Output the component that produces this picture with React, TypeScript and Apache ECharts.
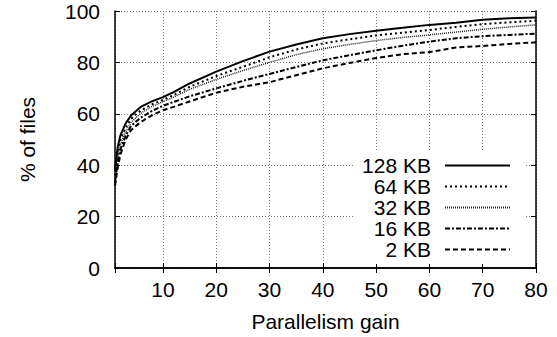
import React, { useEffect, useRef } from "react";
import * as echarts from "echarts";

const gains = [1, 1.5, 2, 3, 4, 5, 6, 8, 10, 12, 15, 20, 25, 30, 35, 40, 45, 50, 55, 60, 65, 70, 75, 80];
const kb128 = [38, 47, 51.5, 56.3, 59.3, 61.2, 62.9, 64.9, 66.5, 68.4, 71.8, 76.4, 80.5, 84.2, 87, 89.4, 91, 92.3, 93.5, 94.6, 95.4, 96.6, 97.2, 97.5];
const kb64 = [36, 45, 50, 54.5, 58, 59.9, 61.5, 63.7, 65.4, 67.3, 70.5, 74.7, 78.3, 82, 85, 87.4, 89, 90.5, 91.6, 92.6, 93.8, 94.9, 95.6, 96.2];
const kb32 = [35, 43.5, 48, 53, 56.6, 58.6, 60.4, 62.9, 64.7, 66.5, 69.5, 73.4, 76.8, 80, 83, 85.3, 87, 88.5, 89.7, 90.7, 91.8, 92.9, 93.8, 94.6];
const kb16 = [33, 41, 46, 51.5, 55.2, 57.1, 58.7, 61.2, 63.1, 64.6, 66.8, 69.9, 72.8, 75.5, 78.2, 80.8, 82.8, 84.7, 86.5, 88.1, 89.4, 90.2, 90.7, 91.2];
const kb2 = [32, 39, 44, 50, 53.6, 55.4, 57, 59.5, 61.4, 62.7, 64.8, 68.2, 70.5, 72.3, 75, 77.7, 79.8, 81.7, 83.2, 84, 85.8, 86.4, 87.2, 87.8];

const seriesNames = ["128 KB", "64 KB", "32 KB", "16 KB", "2 KB"];
const seriesValues = [kb128, kb64, kb32, kb16, kb2];
const yTicks = { min: 0, max: 100, interval: 20 };
const xRange = { min: 1, max: 80 };

const FONT = "'Liberation Sans', Arial, Helvetica, sans-serif";
const FS = 21;

const lineStyles: any[] = [
  { color: "#000", width: 2, type: "solid" },
  { color: "#000", width: 2, type: [2, 3] },
  { color: "#222", width: 1.5, type: [1, 1] },
  { color: "#000", width: 2, type: [5, 2, 2, 2] },
  { color: "#000", width: 2, type: [5, 3] },
];

export default function App() {
  const ref = useRef<HTMLDivElement>(null);
  useEffect(() => {
    if (!ref.current) return;
    const chart = echarts.init(ref.current, null, { renderer: "svg" });
    const axisLine = { show: true, lineStyle: { color: "#000", width: 1.5 } };
    const tick = { show: true, inside: true, length: 5, lineStyle: { color: "#000", width: 1 } };
    const split = { show: true, lineStyle: { color: "#777", width: 1, type: [1, 2] } };
    chart.setOption({
      animation: false,
      backgroundColor: "#fff",
      textStyle: { fontFamily: FONT, color: "#000" },
      grid: { left: 115, right: 21, top: 11, bottom: 69, containLabel: false },
      legend: {
        show: true,
        orient: "vertical",
        right: 33,
        top: 152,
        align: "right",
        padding: [3, 13, 4, 9],
        itemGap: 0,
        itemWidth: 65,
        itemHeight: 14,
        backgroundColor: "#fff",
        selectedMode: false,
        itemStyle: { opacity: 0, borderWidth: 0 },
        data: seriesNames,
        textStyle: { fontFamily: FONT, fontSize: FS, color: "#000", lineHeight: 21, padding: [0, 9, 0, 0] },
      },
      xAxis: [
        {
          type: "value",
          min: xRange.min,
          max: xRange.max,
          splitNumber: 8,
          position: "bottom",
          name: "Parallelism gain",
          nameLocation: "middle",
          nameGap: 43,
          nameTextStyle: { fontFamily: FONT, fontSize: FS, color: "#000" },
          axisLine,
          axisTick: tick,
          splitLine: split,
          axisLabel: {
            fontFamily: FONT,
            fontSize: FS,
            color: "#000",
            margin: 11,
            formatter: (v: number) => (v === xRange.min ? "" : String(v)),
          },
        },
        {
          type: "value",
          min: xRange.min,
          max: xRange.max,
          splitNumber: 8,
          position: "top",
          axisLine,
          axisTick: tick,
          splitLine: { show: false },
          axisLabel: { show: false },
        },
      ],
      yAxis: [
        {
          type: "value",
          min: yTicks.min,
          max: yTicks.max,
          interval: yTicks.interval,
          position: "left",
          name: "% of files",
          nameLocation: "middle",
          nameGap: 77,
          nameTextStyle: { fontFamily: FONT, fontSize: FS, color: "#000" },
          axisLine,
          axisTick: tick,
          splitLine: split,
          axisLabel: { fontFamily: FONT, fontSize: FS, color: "#000", margin: 15 },
        },
        {
          type: "value",
          min: yTicks.min,
          max: yTicks.max,
          interval: yTicks.interval,
          position: "right",
          axisLine,
          axisTick: tick,
          splitLine: { show: false },
          axisLabel: { show: false },
        },
      ],
      series: seriesNames.map((name, i) => ({
        name,
        type: "line",
        xAxisIndex: 0,
        yAxisIndex: 0,
        symbol: "none",
        showSymbol: false,
        color: "#000",
        lineStyle: lineStyles[i],
        data: gains.map((g, j) => [g, seriesValues[i][j]]),
        z: 2,
      })),
    });
    return () => chart.dispose();
  }, []);
  return (
    <div
      ref={ref}
      style={{ position: "fixed", left: 0, top: 0, width: 557, height: 337, background: "#fff" }}
    />
  );
}
